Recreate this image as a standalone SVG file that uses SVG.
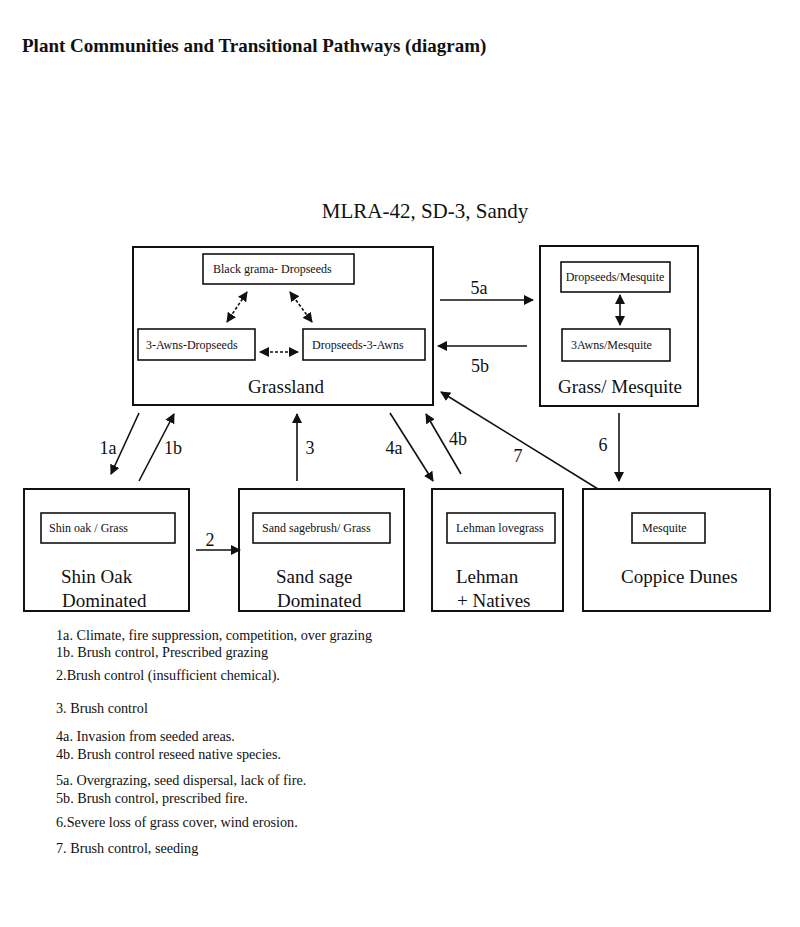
<svg xmlns="http://www.w3.org/2000/svg" width="800" height="927" viewBox="0 0 800 927">
<style>
text{font-family:"Liberation Serif","Times New Roman",serif;fill:#111}
.title{font-size:19px;font-weight:bold}
.sub{font-size:21px}
.big{font-size:19px}
.small{font-size:12px}
.note{font-size:14.2px}
.lbl{font-size:18px}
.outer{fill:#fff;stroke:#111;stroke-width:2}
.inner{fill:#fff;stroke:#111;stroke-width:1.6}
.con{stroke:#111;stroke-width:1.6;fill:none}
.dash{stroke:#111;stroke-width:1.6;fill:none;stroke-dasharray:3 2}
</style>
<defs>
<marker id="ah" viewBox="0 0 10 10" refX="9" refY="5" markerWidth="10" markerHeight="10" markerUnits="userSpaceOnUse" orient="auto-start-reverse">
<path d="M0,0 L10,5 L0,10 z" fill="#111"/>
</marker>
</defs>
<rect width="800" height="927" fill="#fff"/>
<text class="title" x="22" y="52">Plant Communities and Transitional Pathways (diagram)</text>
<text class="sub" x="425" y="218" text-anchor="middle">MLRA-42, SD-3, Sandy</text>

<g id="grassland">
<rect class="outer" x="133" y="247" width="300" height="158"/>
<rect class="inner" x="203" y="254" width="151" height="30"/>
<text class="small" x="213" y="273">Black grama- Dropseeds</text>
<rect class="inner" x="138" y="329" width="117" height="31"/>
<text class="small" x="146" y="349">3-Awns-Dropseeds</text>
<rect class="inner" x="303" y="329" width="122" height="31"/>
<text class="small" x="312" y="349">Dropseeds-3-Awns</text>
<text class="big" x="286" y="393" text-anchor="middle">Grassland</text>
<line class="dash" x1="227" y1="322" x2="247" y2="292" marker-start="url(#ah)" marker-end="url(#ah)"/>
<line class="dash" x1="290" y1="292" x2="312" y2="322" marker-start="url(#ah)" marker-end="url(#ah)"/>
<line class="dash" x1="260" y1="352" x2="298" y2="352" marker-start="url(#ah)" marker-end="url(#ah)"/>
</g>

<g id="grass-mesquite">
<rect class="outer" x="540" y="246" width="158" height="160"/>
<rect class="inner" x="561" y="262" width="109" height="30"/>
<text class="small" x="615" y="281" text-anchor="middle">Dropseeds/Mesquite</text>
<rect class="inner" x="562" y="329" width="108" height="32"/>
<text class="small" x="571" y="349">3Awns/Mesquite</text>
<text class="big" x="620" y="393" text-anchor="middle">Grass/ Mesquite</text>
<line class="con" x1="620" y1="295" x2="620" y2="325" marker-start="url(#ah)" marker-end="url(#ah)"/>
</g>

<g id="shin-oak">
<rect class="outer" x="24" y="489" width="165" height="122"/>
<rect class="inner" x="41" y="513" width="134" height="30"/>
<text class="small" x="49" y="532">Shin oak / Grass</text>
<text class="big" x="61" y="583">Shin Oak</text>
<text class="big" x="62" y="607">Dominated</text>
</g>

<g id="sand-sage">
<rect class="outer" x="239" y="489" width="165" height="122"/>
<rect class="inner" x="253" y="513" width="137" height="30"/>
<text class="small" x="262" y="532">Sand sagebrush/ Grass</text>
<text class="big" x="276" y="583">Sand sage</text>
<text class="big" x="277" y="607">Dominated</text>
</g>

<g id="lehman">
<rect class="outer" x="432" y="489" width="131" height="122"/>
<rect class="inner" x="447" y="513" width="108" height="30"/>
<text class="small" x="456" y="532">Lehman lovegrass</text>
<text class="big" x="456" y="583">Lehman</text>
<text class="big" x="457" y="607">+ Natives</text>
</g>

<g id="coppice">
<rect class="outer" x="583" y="489" width="187" height="122"/>
<rect class="inner" x="632" y="513" width="73" height="30"/>
<text class="small" x="642" y="532">Mesquite</text>
<text class="big" x="621" y="583">Coppice Dunes</text>
</g>

<g id="connectors">
<line class="con" x1="440" y1="300" x2="533" y2="300" marker-end="url(#ah)"/>
<text class="lbl" x="479" y="294" text-anchor="middle">5a</text>
<line class="con" x1="527" y1="346" x2="438" y2="346" marker-end="url(#ah)"/>
<text class="lbl" x="480" y="372" text-anchor="middle">5b</text>
<line class="con" x1="139" y1="413" x2="111" y2="474" marker-end="url(#ah)"/>
<text class="lbl" x="108" y="454" text-anchor="middle">1a</text>
<line class="con" x1="139" y1="481" x2="174" y2="414" marker-end="url(#ah)"/>
<text class="lbl" x="173" y="454" text-anchor="middle">1b</text>
<line class="con" x1="297" y1="481" x2="297" y2="414" marker-end="url(#ah)"/>
<text class="lbl" x="310" y="454" text-anchor="middle">3</text>
<line class="con" x1="196" y1="550" x2="240" y2="550" marker-end="url(#ah)"/>
<text class="lbl" x="210" y="546" text-anchor="middle">2</text>
<line class="con" x1="390" y1="413" x2="433" y2="481" marker-end="url(#ah)"/>
<text class="lbl" x="394" y="454" text-anchor="middle">4a</text>
<line class="con" x1="461" y1="474" x2="426" y2="414" marker-end="url(#ah)"/>
<text class="lbl" x="458" y="445" text-anchor="middle">4b</text>
<line class="con" x1="598" y1="489" x2="441" y2="392" marker-end="url(#ah)"/>
<text class="lbl" x="518" y="462" text-anchor="middle">7</text>
<line class="con" x1="619" y1="413" x2="619" y2="481" marker-end="url(#ah)"/>
<text class="lbl" x="603" y="451" text-anchor="middle">6</text>
</g>

<g id="notes">
<text class="note" x="56" y="640">1a. Climate, fire suppression, competition, over grazing</text>
<text class="note" x="56" y="657">1b. Brush control, Prescribed grazing</text>
<text class="note" x="56" y="680">2.Brush control (insufficient chemical).</text>
<text class="note" x="56" y="713">3. Brush control</text>
<text class="note" x="56" y="741">4a. Invasion from seeded areas.</text>
<text class="note" x="56" y="759">4b. Brush control reseed native species.</text>
<text class="note" x="56" y="785">5a. Overgrazing, seed dispersal, lack of fire.</text>
<text class="note" x="56" y="803">5b. Brush control, prescribed fire.</text>
<text class="note" x="56" y="827">6.Severe loss of grass cover, wind erosion.</text>
<text class="note" x="56" y="853">7. Brush control, seeding</text>
</g>
</svg>
